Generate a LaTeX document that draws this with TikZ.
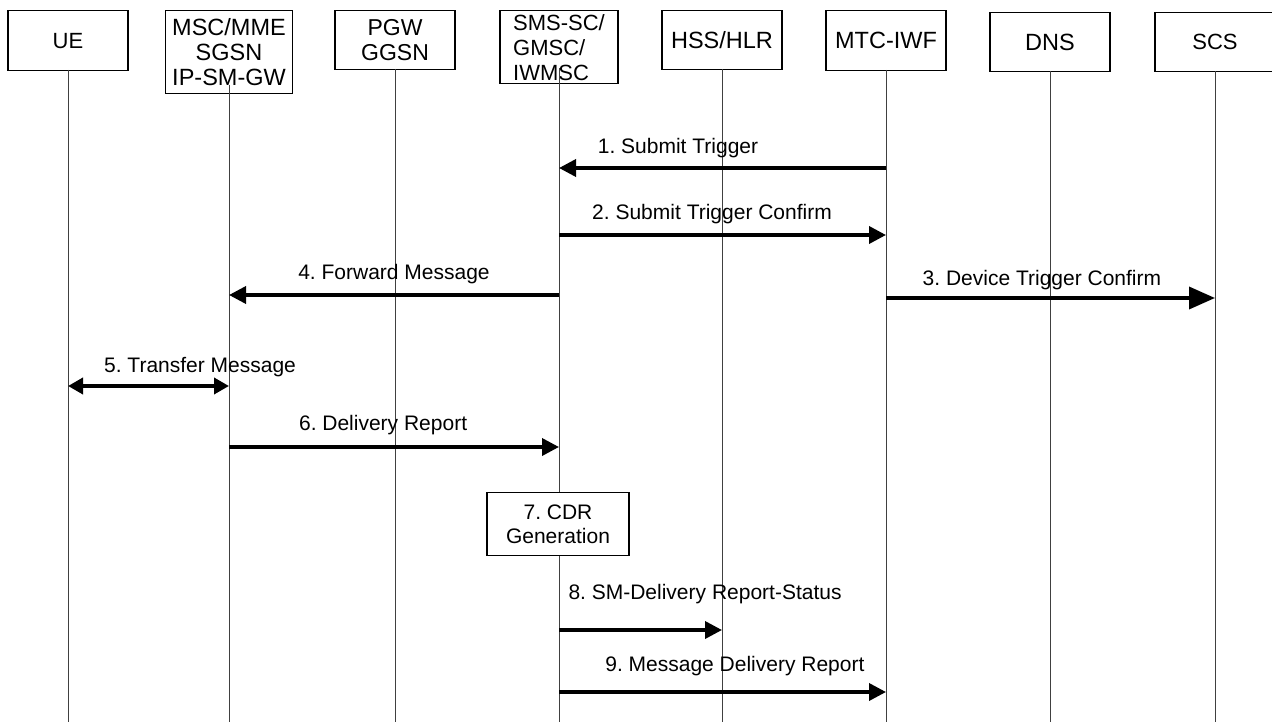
\documentclass[tikz,border=0pt]{standalone}
\usepackage{fontspec}
\setmainfont{Liberation Sans}
\frenchspacing
\usetikzlibrary{positioning,arrows.meta}

\tikzset{
  entity/.style={draw, line width=1.5pt, minimum width=120pt, minimum height=60pt, inner sep=0pt, align=center, font=\fontsize{22}{25}\selectfont},
  bigtext/.style={font=\fontsize{23.5}{25}\selectfont},
  life/.style={line width=0.8pt, black!75},
  msg/.style={line width=3.6pt, -{Triangle[length=17pt,width=17pt]}},
  lbl/.style={font=\fontsize{21}{23}\selectfont, inner sep=0pt, text height=15pt, text depth=4.5pt}
}

\begin{document}
\begin{tikzpicture}[x=1pt, y=-1pt]

    \useasboundingbox (0,0) rectangle (1272,722);

    % Entities
    \node [entity, anchor=north] (ue) at (68,10) {UE};
    \node [entity, bigtext, anchor=north, minimum width=127pt, minimum height=83pt] (msc) at (229,10) {MSC/MME\\SGSN\\IP-SM-GW};
    \node [entity, anchor=north, minimum height=59pt, font=\fontsize{23}{25}\selectfont] (pgw) at (395,10) {PGW\\GGSN};
    \node [entity, anchor=north, minimum width=118pt, minimum height=73pt, align=left] (sms) at (559,10) {SMS-SC/\\GMSC/\\IWMSC};
    \node [entity, bigtext, anchor=north, minimum height=59pt] (hss) at (722,10) {HSS/HLR};
    \node [entity, bigtext, anchor=north] (mtc) at (886,10) {MTC-IWF};
    \node [entity, bigtext, anchor=north, minimum height=59pt] (dns) at (1050,12) {DNS};
    \node [entity, anchor=north, minimum height=59pt] (scs) at (1215,12) {SCS};

    % Lifelines
    \foreach \n/\top in {ue/70, msc/85, pgw/69, sms/68, hss/69, mtc/70, dns/71, scs/71}
        \draw [life] (\n |- 0,\top) -- (\n |- 0,722);

    % CDR generation
    \node [entity, fill=white, minimum width=142pt, minimum height=63pt, font=\fontsize{21}{24}\selectfont] (cdr) at (558,524) {7. CDR\\Generation};

    % Messages
    \draw [msg] (mtc |- 0,168) -- (sms |- 0,168) node[lbl, pos=0.636, above=8pt] {1. Submit Trigger};
    \draw [msg] (sms |- 0,235) -- (mtc |- 0,235) node[lbl, pos=0.468, above=9pt] {2. Submit Trigger Confirm};
    \draw [msg] (sms |- 0,295) -- (msc |- 0,295) node[lbl, midway, above=9pt] {4. Forward Message};
    \draw [msg, -{Triangle[length=26pt,width=22pt]}] (mtc |- 0,298) -- (scs |- 0,298) node[lbl, pos=0.474, above=6pt] {3. Device Trigger Confirm};
    \draw [msg, {Triangle[length=15pt,width=16pt]}-{Triangle[length=15pt,width=16pt]}] (ue |- 0,386) -- (msc |- 0,386) node[lbl, pos=0.82, above=7pt] {5. Transfer Message};
    \draw [msg] (msc |- 0,447) -- (sms |- 0,447) node[lbl, pos=0.467, above=10pt] {6. Delivery Report};
    \draw [msg] (sms |- 0,630) -- (hss |- 0,630) node[lbl, pos=0.896, above=24pt] {8. SM-Delivery Report-Status};
    \draw [msg] (sms |- 0,692) -- (mtc |- 0,692) node[lbl, pos=0.538, above=14pt] {9. Message Delivery Report};

\end{tikzpicture}
\end{document}
